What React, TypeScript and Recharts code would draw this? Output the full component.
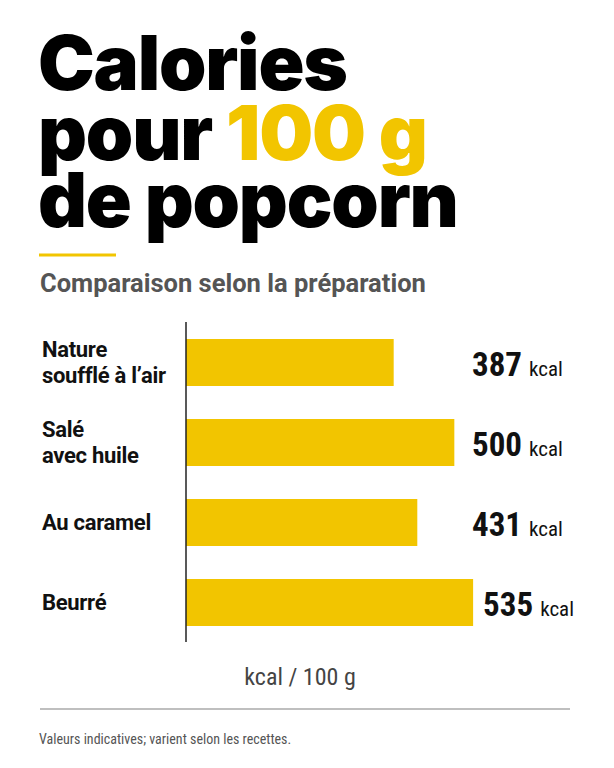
import React from 'react';
import { BarChart, Bar, XAxis, YAxis, LabelList } from 'recharts';

const categories = ['Nature\nsoufflé à l’air', 'Salé\navec huile', 'Au caramel', 'Beurré'];
const values = [387, 500, 431, 535];
const unit = 'kcal';
const titleLines = ['Calories', 'pour ', 'de popcorn'];
const titleHighlight = '100 g';
const subtitle = 'Comparaison selon la préparation';
const axisTitle = 'kcal / 100 g';
const footnote = 'Valeurs indicatives; varient selon les recettes.';

const data = categories.map((name, i) => ({ name, value: values[i] }));

const YELLOW = '#F2C500';
const NARROW = "'Liberation Sans Narrow', 'Roboto Condensed', 'DejaVu Sans Condensed', Roboto, sans-serif";
const SANS = "Roboto, 'Noto Sans', sans-serif";
const TITLE = "Inter, 'Noto Sans', sans-serif";
const LABEL_X = 42;
const VALUE_COL_X = 472;

const CategoryTick = (props: any) => {
  const { y, payload } = props;
  const lines = String(payload.value).split('\n');
  const first = lines.length > 1 ? y - 5 : y + 8;
  return (
    <text x={LABEL_X} y={first} textAnchor="start" fontFamily={SANS} fontWeight={700} fontSize={22} fill="#111" letterSpacing={-0.3}>
      {lines.map((l, i) => (
        <tspan key={i} x={LABEL_X} y={first + i * 26}>{l}</tspan>
      ))}
    </text>
  );
};

const ValueLabel = (props: any) => {
  const { x, y, width, height, value } = props;
  const lx = Math.max(x + width + 10, VALUE_COL_X);
  const cy = y + height / 2 + 13;
  return (
    <text x={lx} y={cy} textAnchor="start" fill="#111">
      <tspan fontFamily={NARROW} fontWeight={700} fontSize={33}>{value}</tspan>
      <tspan dx={7} fontFamily={NARROW} fontWeight={400} fontSize={21}>{unit}</tspan>
    </text>
  );
};

export default function App() {
  return (
    <div style={{ position: 'absolute', left: 0, top: 0, width: 614, height: 768, background: '#fff', overflow: 'hidden' }}>
      <div style={{ position: 'absolute', left: 0, top: 0 }}>
        <BarChart
          width={614}
          height={768}
          data={data}
          layout="vertical"
          margin={{ top: 322, right: 106, bottom: 126, left: 0 }}
          barSize={47}
        >
          <XAxis type="number" domain={[0, 600]} hide />
          <YAxis
            type="category"
            dataKey="name"
            width={186}
            axisLine={{ stroke: '#222', strokeWidth: 1.5 }}
            tickLine={false}
            tick={<CategoryTick />}
            interval={0}
          />
          <Bar dataKey="value" fill={YELLOW} isAnimationActive={false}>
            <LabelList dataKey="value" content={<ValueLabel />} />
          </Bar>
        </BarChart>
      </div>
      <svg width={614} height={768} style={{ position: 'absolute', left: 0, top: 0, pointerEvents: 'none' }}>
        <text x={38} y={90} fontFamily={TITLE} fontWeight={900} fontSize={76} fill="#000" letterSpacing={-1.2}>{titleLines[0]}</text>
        <text x={38} y={160} fontFamily={TITLE} fontWeight={900} fontSize={76} fill="#000" letterSpacing={-1.2}>
          {titleLines[1]}
          <tspan fill={YELLOW}>{titleHighlight}</tspan>
        </text>
        <text x={38} y={227} fontFamily={TITLE} fontWeight={900} fontSize={76} fill="#000" letterSpacing={-1.2}>{titleLines[2]}</text>
        <line x1={39} x2={116} y1={255} y2={255} stroke={YELLOW} strokeWidth={3} />
        <text x={40} y={292} fontFamily={SANS} fontWeight={700} fontSize={25.5} fill="#555">{subtitle}</text>
        <text x={300} y={685} textAnchor="middle" fontFamily={NARROW} fontWeight={400} fontSize={24} fill="#444">{axisTitle}</text>
        <line x1={40} x2={570} y1={709} y2={709} stroke="#aaa" strokeWidth={1.5} />
        <text x={39} y={744} fontFamily={NARROW} fontWeight={400} fontSize={14} fill="#555">{footnote}</text>
      </svg>
    </div>
  );
}
